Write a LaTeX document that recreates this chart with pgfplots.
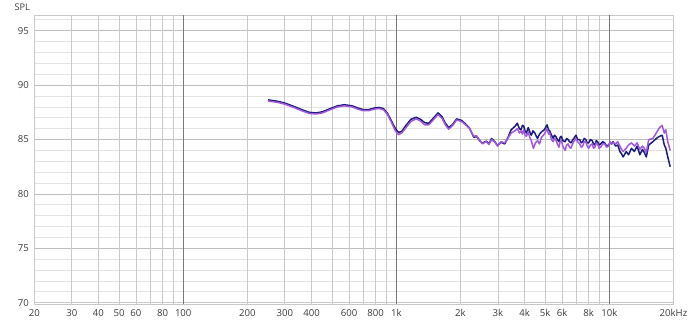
\documentclass[border=0pt]{standalone}
\usepackage{fontspec}
\setmainfont{Open Sans}
\usepackage{pgfplots}
\pgfplotsset{compat=1.18}
\definecolor{navyc}{HTML}{1A1A7A}
\definecolor{purp}{HTML}{A057DC}
\definecolor{gmaj}{HTML}{787878}
\definecolor{gvert}{HTML}{C8C8C8}
\definecolor{gfive}{HTML}{BEBEBE}
\definecolor{gminor}{HTML}{E3E3E3}
\definecolor{txt}{HTML}{3A3A3A}
\begin{document}
\begin{tikzpicture}
\begin{axis}[
  at={(0,0)}, anchor=south west,
  scale only axis, width=639.5pt, height=289.5pt,
  xmode=log, xmin=20, xmax=20000, ymin=69.85, ymax=96.45,
  xtick={20,30,40,50,60,80,200,300,400,600,800,2000,3000,4000,5000,6000,8000,20000},
  xticklabels={20,30,40,50,60,80,200,300,400,600,800,2k,3k,4k,5k,6k,8k,20kHz},
  minor xtick={70,90,500,700,900,7000,9000},
  extra x ticks={100,1000,10000},
  extra x tick labels={100,1k,10k},
  extra x tick style={grid=major, major grid style={color=gmaj, line width=0.8pt}},
  ytick={70,75,80,85,90,95},
  minor ytick={71,72,73,74,76,77,78,79,81,82,83,84,86,87,88,89,91,92,93,94,96},
  grid=both,
  major grid style={color=gvert, line width=0.8pt},
  minor grid style={color=gvert, line width=0.8pt},
  major tick length=0pt, minor tick length=0pt,
  axis line style={color=gvert, line width=0.8pt},
  ticklabel style={font=\fontsize{9.6}{11}\selectfont, text=txt},
  xticklabel style={yshift=-1.5pt},
  yticklabel style={xshift=-2pt},
  /pgf/number format/assume math mode=true,
  clip=true,
]
% horizontal grid lines styled separately
\pgfplotsinvokeforeach{71,72,73,74,76,77,78,79,81,82,83,84,86,87,88,89,91,92,93,94,96}{
  \draw[gminor, line width=0.8pt] (axis cs:20,#1) -- (axis cs:20000,#1);
}
\pgfplotsinvokeforeach{75,80,85,90,95}{
  \draw[gfive, line width=0.8pt] (axis cs:20,#1) -- (axis cs:20000,#1);
}
\pgfplotsinvokeforeach{20,30,40,50,60,70,80,90,200,300,400,500,600,700,800,900,2000,3000,4000,5000,6000,7000,8000,9000}{
  \draw[gvert, line width=0.8pt] (axis cs:#1,69.85) -- (axis cs:#1,96.45);
}
\pgfplotsinvokeforeach{100,1000,10000}{
  \draw[gmaj, line width=0.8pt] (axis cs:#1,69.85) -- (axis cs:#1,96.45);
}
\addplot[navyc, line width=1.5pt, line join=round] coordinates {
(250,88.65) (280,88.5) (300,88.35) (330,88.05) (360,87.75) (390,87.5) (420,87.45)
(450,87.55) (490,87.85) (530,88.1) (570,88.2) (620,88.1) (660,87.9) (700,87.75)
(740,87.75) (790,87.9) (830,87.95) (870,87.85) (910,87.4) (950,86.7) (990,86.0)
(1025,85.65) (1060,85.75) (1110,86.3) (1170,86.85) (1240,87.05) (1300,86.85)
(1360,86.55) (1420,86.5) (1490,86.95) (1570,87.45) (1640,87.1) (1700,86.5)
(1760,86.1) (1830,86.35) (1920,86.9) (2030,86.75) (2200,86.1) (2310,85.2)
(2380,85.3) (2460,84.9) (2540,84.65) (2600,84.8) (2650,84.85) (2720,84.6) (2800,85.1) (2900,84.8)
(2990,84.45) (3100,84.75) (3230,84.6) (3360,85.3) (3460,85.9) (3600,86.2) (3700,86.5)
(3780,86.0) (3850,85.9) (3910,86.3) (3960,86.25) (4020,85.8) (4080,85.6) (4160,86.1) (4230,85.7) (4300,85.4) (4380,85.8) (4470,85.6)
(4540,85.3) (4600,85.1) (4700,85.5) (4800,85.7) (4950,85.9) (5100,86.35) (5180,85.9) (5250,85.8) (5350,85.4) (5450,85.1) (5520,85.4) (5600,85.3)
(5700,85.0) (5800,84.8) (5870,85.2) (5950,85.3) (6050,84.9) (6200,84.8) (6300,85.1) (6400,85.0) (6500,84.8) (6600,84.7) (6750,85.0) (6970,85.4)
(7100,85.0) (7250,85.0) (7380,84.7) (7500,84.8) (7620,85.1) (7750,85.0) (7870,84.7) (8000,84.7) (8150,85.0) (8300,84.9) (8430,84.6) (8550,84.5)
(8680,84.9) (8800,84.8) (8950,84.5) (9100,84.6) (9300,84.8) (9500,84.7) (9700,84.4) (9900,84.5) (10100,84.7) (10250,84.6) (10400,84.8)
(10700,84.4) (10950,84.5) (11200,83.9) (11400,83.7) (11600,83.4) (12000,83.9) (12300,83.6) (12700,84.2)
(13100,83.9) (13500,84.4) (13900,83.6) (14300,84.1) (14600,83.8) (14900,83.4) (15300,84.5)
(16000,84.8) (16600,85.1) (17200,85.3) (17700,85.4) (18100,84.5) (18400,84.2)
(18800,83.4) (19300,82.5)
};
\addplot[purp, line width=1.5pt, line join=round] coordinates {
(250,88.55) (280,88.4) (300,88.25) (330,87.95) (360,87.65) (390,87.4) (420,87.35)
(450,87.45) (490,87.75) (530,88.0) (570,88.1) (620,88.0) (660,87.8) (700,87.65)
(740,87.65) (790,87.8) (830,87.85) (870,87.75) (910,87.3) (950,86.55) (990,85.8)
(1025,85.45) (1060,85.6) (1110,86.1) (1170,86.65) (1240,86.9) (1300,86.7)
(1360,86.35) (1420,86.35) (1490,86.8) (1570,87.3) (1640,86.95) (1700,86.35)
(1760,85.95) (1830,86.25) (1920,86.8) (2030,86.65) (2200,86.05) (2310,85.3)
(2380,85.35) (2460,84.95) (2540,84.6) (2600,84.75) (2650,84.8) (2720,84.55) (2800,85.0) (2900,84.75)
(2990,84.4) (3100,84.8) (3230,84.7) (3360,85.2) (3460,85.6) (3600,85.8) (3700,86.0)
(3780,85.6) (3850,85.8) (3910,85.5) (3960,85.9) (4020,85.4) (4080,85.3) (4160,85.7) (4230,85.2) (4300,84.9) (4400,84.2)
(4500,84.7) (4600,84.9) (4700,84.6) (4800,85.2) (4950,85.5) (5100,86.0) (5180,85.5) (5250,85.6) (5350,85.0) (5450,84.8) (5520,85.1) (5600,85.0)
(5700,84.6) (5800,84.3) (5870,84.8) (5950,84.9) (6050,84.4) (6200,84.0) (6300,84.5) (6400,84.6) (6500,84.3) (6600,84.2) (6750,84.7) (6970,85.1)
(7100,84.8) (7250,84.6) (7380,84.3) (7500,84.4) (7620,84.8) (7750,84.8) (7870,84.4) (8000,84.2) (8150,84.5) (8300,84.6) (8430,84.2) (8550,84.3)
(8680,84.7) (8800,84.6) (8950,84.2) (9100,84.3) (9300,84.6) (9500,84.6) (9700,84.3) (9900,84.4) (10100,84.8) (10250,84.6) (10400,84.7)
(10700,84.6) (10950,84.8) (11200,84.4) (11400,84.1) (11600,83.9) (12000,84.2) (12300,84.5) (12700,84.7)
(13100,84.4) (13500,84.7) (13900,84.1) (14300,84.4) (14600,84.2) (14900,83.8) (15300,85.0)
(16000,85.1) (16600,85.6) (17200,86.1) (17700,86.3) (18100,85.6) (18400,85.9)
(18800,84.8) (19300,84.0)
};
\end{axis}
\node[font=\fontsize{9.2}{10}\selectfont, text=txt] at (-12pt,297.5pt) {SPL};
\pgfresetboundingbox
\path[use as bounding box] (-34.3pt,-21.5pt) rectangle (656pt,304.5pt);
\end{tikzpicture}
\end{document}
